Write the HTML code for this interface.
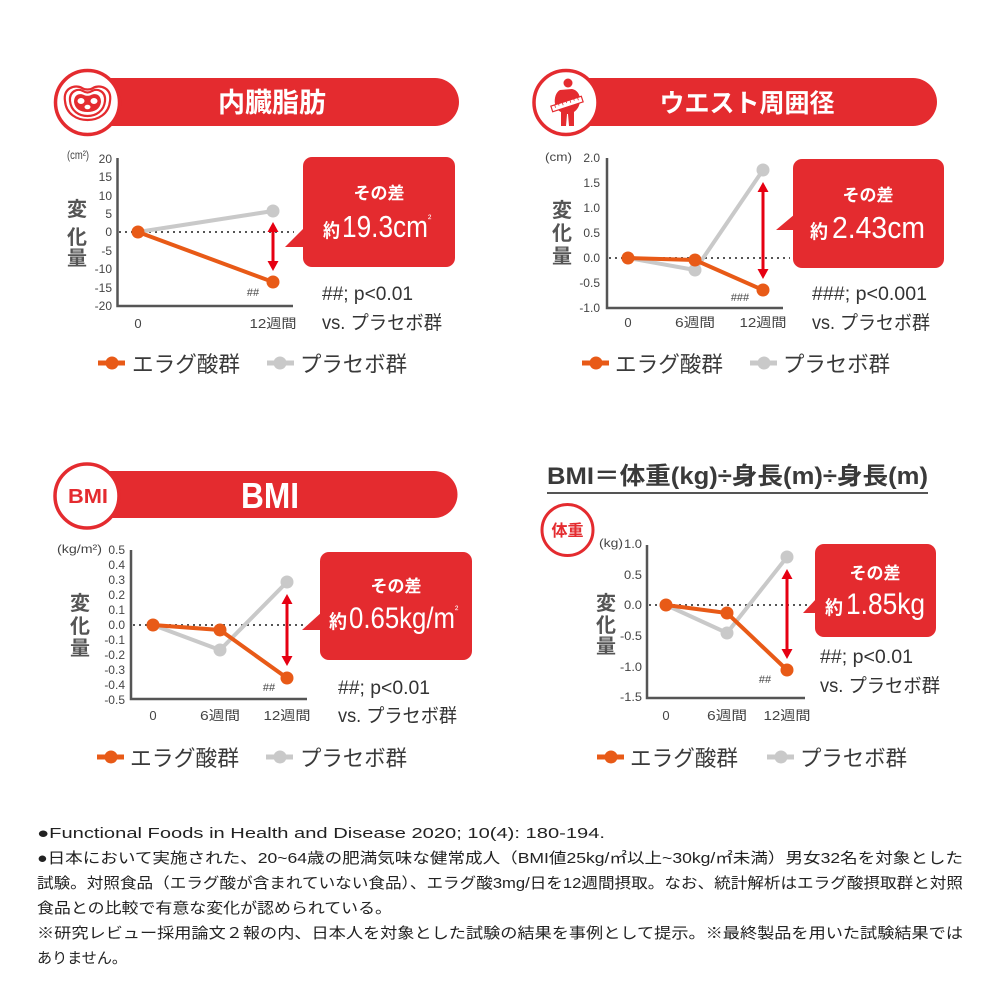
<!DOCTYPE html>
<html><head><meta charset="utf-8"><style>
html,body{margin:0;padding:0;background:#fff;}
svg{display:block;}
text{font-family:"Liberation Sans","Noto Sans CJK JP",sans-serif;}
</style></head><body>
<svg width="1000" height="1000" viewBox="0 0 1000 1000" xmlns="http://www.w3.org/2000/svg">
<rect width="1000" height="1000" fill="#fff"/>

<!-- ================= PANEL 1 ================= -->
<path d="M100,78 H435 A24,24 0 0 1 435,126 H100 Z" fill="#E42B2F"/>
<circle cx="87.5" cy="102.5" r="32" fill="#fff" stroke="#E42B2F" stroke-width="3.5"/>
<g fill="none" stroke="#E42B2F" stroke-width="2.2">
  <path d="M65,101 C63,88 75,84 82,88 C85,90 90,90 93,88 C100,84 112,88 110,101 C109,114 98,120 87.5,120 C77,120 66,114 65,101 Z"/>
  <path d="M70,101 C69,91 78,88 83,91 C86,93 89,93 92,91 C97,88 106,91 105,101 C104,111 96,116 87.5,116 C79,116 71,111 70,101 Z"/>
</g>
<path d="M74,102 C74,94 80,93 84,95 C86,96 89,96 91,95 C95,93 101,94 101,102 C100,109 95,112 87.5,112 C80,112 75,109 74,102 Z" fill="#E42B2F"/>
<ellipse cx="81" cy="101" rx="3.5" ry="3" fill="#fff"/>
<ellipse cx="94" cy="101" rx="3.5" ry="3" fill="#fff"/>
<ellipse cx="87.5" cy="107" rx="3" ry="2.3" fill="#fff"/>
<text x="272" y="112" font-size="27" font-weight="bold" fill="#fff" text-anchor="middle">内臓脂肪</text>

<!-- chart 1 -->
<text x="67" y="159" font-size="12" fill="#444" textLength="22" lengthAdjust="spacingAndGlyphs">(cm²)</text>
<g font-size="20" font-weight="bold" fill="#555" text-anchor="middle">
  <text x="77" y="216">変</text><text x="77" y="244">化</text><text x="77" y="265">量</text>
</g>
<g font-size="12" fill="#444" text-anchor="end">
  <text x="112" y="163">20</text><text x="112" y="181">15</text><text x="112" y="200">10</text>
  <text x="112" y="218">5</text><text x="112" y="236">0</text><text x="112" y="255">-5</text>
  <text x="112" y="273">-10</text><text x="112" y="292">-15</text><text x="112" y="310">-20</text>
</g>
<line x1="119" y1="232" x2="294" y2="232" stroke="#555" stroke-width="2" stroke-dasharray="2 4"/>
<polyline points="117.5,158 117.5,306 293,306" fill="none" stroke="#555" stroke-width="2.5"/>
<polyline points="138,232 273,211" fill="none" stroke="#C9C9C9" stroke-width="4"/>
<circle cx="273" cy="211" r="6.5" fill="#C9C9C9"/>
<polyline points="138,232 273,282" fill="none" stroke="#E85A17" stroke-width="4"/>
<circle cx="138" cy="232" r="6.5" fill="#E85A17"/>
<circle cx="273" cy="282" r="6.5" fill="#E85A17"/>
<line x1="273" y1="230" x2="273" y2="263" stroke="#E60012" stroke-width="3"/>
<polygon points="273,222 267.5,232 278.5,232" fill="#E60012"/>
<polygon points="273,271 267.5,261 278.5,261" fill="#E60012"/>
<text x="253" y="296" font-size="11" fill="#444" text-anchor="middle">##</text>
<g font-size="13" fill="#444" text-anchor="middle">
  <text x="138" y="328">0</text>
  <text x="273" y="328" textLength="47" lengthAdjust="spacingAndGlyphs">12週間</text>
</g>
<!-- callout 1 -->
<rect x="303" y="157" width="152" height="110" rx="9" fill="#E42B2F"/>
<polygon points="285,247 305,227 305,247" fill="#E42B2F"/>
<text x="379" y="199" font-size="17" font-weight="bold" fill="#fff" text-anchor="middle">その差</text>
<text x="323" y="237" font-size="19" font-weight="bold" fill="#fff" textLength="17" lengthAdjust="spacingAndGlyphs">約</text>
<text x="342" y="237" font-size="31" fill="#fff" textLength="86" lengthAdjust="spacingAndGlyphs">19.3cm</text>
<text x="428" y="222" font-size="10" fill="#fff">²</text>
<text x="322" y="300" font-size="19" fill="#333" textLength="91" lengthAdjust="spacingAndGlyphs">##; p&lt;0.01</text>
<text x="322" y="329" font-size="19" fill="#333" textLength="120" lengthAdjust="spacingAndGlyphs">vs. プラセボ群</text>
<!-- legend 1 -->
<line x1="98" y1="363" x2="125" y2="363" stroke="#E85A17" stroke-width="5"/>
<circle cx="112" cy="363" r="6.5" fill="#E85A17"/>
<text x="132" y="372" font-size="22" fill="#3a3a3a" textLength="108" lengthAdjust="spacingAndGlyphs">エラグ酸群</text>
<line x1="267" y1="363" x2="294" y2="363" stroke="#C9C9C9" stroke-width="5"/>
<circle cx="280" cy="363" r="6.5" fill="#C9C9C9"/>
<text x="300" y="372" font-size="22" fill="#3a3a3a" textLength="107" lengthAdjust="spacingAndGlyphs">プラセボ群</text>

<!-- ================= PANEL 2 ================= -->
<path d="M580,78 H913 A24,24 0 0 1 913,126 H580 Z" fill="#E42B2F"/>
<circle cx="566" cy="102.5" r="32" fill="#fff" stroke="#E42B2F" stroke-width="3.5"/>
<g fill="#E42B2F">
  <circle cx="568" cy="83" r="4.5"/>
  <path d="M560,90 C556,92 554,98 555,104 C556,109 559,111 561,112 L561,126 L566,126 L567,114 L568,114 L569,126 L574,126 L574,112 C577,110 580,106 580,100 C580,94 577,90 572,89 Z"/>
</g>
<g transform="rotate(-18 567 104)">
  <rect x="551" y="101" width="32" height="6" fill="#fff" stroke="#E42B2F" stroke-width="1.2"/>
  <path d="M555,101 v3 M559,101 v2 M563,101 v3 M567,101 v2 M571,101 v3 M575,101 v2 M579,101 v3" stroke="#E42B2F" stroke-width="0.8"/>
</g>
<text x="747" y="112" font-size="25.5" font-weight="bold" fill="#fff" text-anchor="middle" textLength="175" lengthAdjust="spacingAndGlyphs">ウエスト周囲径</text>

<text x="545" y="161" font-size="12" fill="#444" textLength="27" lengthAdjust="spacingAndGlyphs">(cm)</text>
<g font-size="20" font-weight="bold" fill="#555" text-anchor="middle">
  <text x="562" y="217">変</text><text x="562" y="240">化</text><text x="562" y="263">量</text>
</g>
<g font-size="12" fill="#444" text-anchor="end">
  <text x="600" y="162">2.0</text><text x="600" y="187">1.5</text><text x="600" y="212">1.0</text>
  <text x="600" y="237">0.5</text><text x="600" y="262">0.0</text><text x="600" y="287">-0.5</text>
  <text x="600" y="312">-1.0</text>
</g>
<line x1="609" y1="258" x2="790" y2="258" stroke="#555" stroke-width="2" stroke-dasharray="2 4"/>
<polyline points="607,158 607,308 783,308" fill="none" stroke="#555" stroke-width="2.5"/>
<polyline points="628,258 695,270 763,170" fill="none" stroke="#C9C9C9" stroke-width="4"/>
<circle cx="695" cy="270" r="6.5" fill="#C9C9C9"/>
<circle cx="763" cy="170" r="6.5" fill="#C9C9C9"/>
<polyline points="628,258 695,260 763,290" fill="none" stroke="#E85A17" stroke-width="4"/>
<circle cx="628" cy="258" r="6.5" fill="#E85A17"/>
<circle cx="695" cy="260" r="6.5" fill="#E85A17"/>
<circle cx="763" cy="290" r="6.5" fill="#E85A17"/>
<line x1="763" y1="190" x2="763" y2="271" stroke="#E60012" stroke-width="3"/>
<polygon points="763,182 757.5,192 768.5,192" fill="#E60012"/>
<polygon points="763,279 757.5,269 768.5,269" fill="#E60012"/>
<text x="740" y="301" font-size="11" fill="#444" text-anchor="middle">###</text>
<g font-size="13" fill="#444" text-anchor="middle">
  <text x="628" y="327">0</text>
  <text x="695" y="327" textLength="40" lengthAdjust="spacingAndGlyphs">6週間</text>
  <text x="763" y="327" textLength="47" lengthAdjust="spacingAndGlyphs">12週間</text>
</g>
<rect x="793" y="159" width="151" height="109" rx="9" fill="#E42B2F"/>
<polygon points="776,230 795,214 795,230" fill="#E42B2F"/>
<text x="868" y="201" font-size="17" font-weight="bold" fill="#fff" text-anchor="middle">その差</text>
<text x="810" y="238" font-size="19" font-weight="bold" fill="#fff" textLength="18" lengthAdjust="spacingAndGlyphs">約</text>
<text x="832" y="238" font-size="31" fill="#fff" textLength="93" lengthAdjust="spacingAndGlyphs">2.43cm</text>
<text x="812" y="300" font-size="19" fill="#333" textLength="115" lengthAdjust="spacingAndGlyphs">###; p&lt;0.001</text>
<text x="812" y="329" font-size="19" fill="#333" textLength="118" lengthAdjust="spacingAndGlyphs">vs. プラセボ群</text>
<line x1="582" y1="363" x2="609" y2="363" stroke="#E85A17" stroke-width="5"/>
<circle cx="596" cy="363" r="6.5" fill="#E85A17"/>
<text x="615" y="372" font-size="22" fill="#3a3a3a" textLength="108" lengthAdjust="spacingAndGlyphs">エラグ酸群</text>
<line x1="750" y1="363" x2="777" y2="363" stroke="#C9C9C9" stroke-width="5"/>
<circle cx="764" cy="363" r="6.5" fill="#C9C9C9"/>
<text x="783" y="372" font-size="22" fill="#3a3a3a" textLength="107" lengthAdjust="spacingAndGlyphs">プラセボ群</text>

<!-- ================= PANEL 3 ================= -->
<path d="M100,471 H434 A23.5,23.5 0 0 1 434,518 H100 Z" fill="#E42B2F"/>
<circle cx="87" cy="496" r="32" fill="#fff" stroke="#E42B2F" stroke-width="3.5"/>
<text x="88" y="503" font-size="20" font-weight="bold" fill="#E42B2F" text-anchor="middle" textLength="40" lengthAdjust="spacingAndGlyphs">BMI</text>
<text x="270" y="508" font-size="36" fill="#fff" text-anchor="middle" textLength="58" lengthAdjust="spacingAndGlyphs" font-weight="bold">BMI</text>

<text x="57" y="553" font-size="12" fill="#444" textLength="45" lengthAdjust="spacingAndGlyphs">(kg/m²)</text>
<g font-size="20" font-weight="bold" fill="#555" text-anchor="middle">
  <text x="80" y="610">変</text><text x="80" y="633">化</text><text x="80" y="655">量</text>
</g>
<g font-size="12" fill="#444" text-anchor="end">
  <text x="125" y="554">0.5</text><text x="125" y="569">0.4</text><text x="125" y="584">0.3</text>
  <text x="125" y="599">0.2</text><text x="125" y="614">0.1</text><text x="125" y="629">0.0</text>
  <text x="125" y="644">-0.1</text><text x="125" y="659">-0.2</text><text x="125" y="674">-0.3</text>
  <text x="125" y="689">-0.4</text><text x="125" y="704">-0.5</text>
</g>
<line x1="133" y1="625" x2="307" y2="625" stroke="#555" stroke-width="2" stroke-dasharray="2 4"/>
<polyline points="131,550 131,699 307,699" fill="none" stroke="#555" stroke-width="2.5"/>
<polyline points="153,625 220,650 287,582" fill="none" stroke="#C9C9C9" stroke-width="4"/>
<circle cx="220" cy="650" r="6.5" fill="#C9C9C9"/>
<circle cx="287" cy="582" r="6.5" fill="#C9C9C9"/>
<polyline points="153,625 220,630 287,678" fill="none" stroke="#E85A17" stroke-width="4"/>
<circle cx="153" cy="625" r="6.5" fill="#E85A17"/>
<circle cx="220" cy="630" r="6.5" fill="#E85A17"/>
<circle cx="287" cy="678" r="6.5" fill="#E85A17"/>
<line x1="287" y1="602" x2="287" y2="658" stroke="#E60012" stroke-width="3"/>
<polygon points="287,594 281.5,604 292.5,604" fill="#E60012"/>
<polygon points="287,666 281.5,656 292.5,656" fill="#E60012"/>
<text x="269" y="691" font-size="11" fill="#444" text-anchor="middle">##</text>
<g font-size="13" fill="#444" text-anchor="middle">
  <text x="153" y="720">0</text>
  <text x="220" y="720" textLength="40" lengthAdjust="spacingAndGlyphs">6週間</text>
  <text x="287" y="720" textLength="47" lengthAdjust="spacingAndGlyphs">12週間</text>
</g>
<rect x="320" y="552" width="152" height="108" rx="9" fill="#E42B2F"/>
<polygon points="302,630 322,612 322,630" fill="#E42B2F"/>
<text x="396" y="592" font-size="17" font-weight="bold" fill="#fff" text-anchor="middle">その差</text>
<text x="329" y="628" font-size="19" font-weight="bold" fill="#fff" textLength="18" lengthAdjust="spacingAndGlyphs">約</text>
<text x="349" y="628" font-size="30" fill="#fff" textLength="106" lengthAdjust="spacingAndGlyphs">0.65kg/m</text>
<text x="455" y="613" font-size="10" fill="#fff">²</text>
<text x="338" y="694" font-size="19" fill="#333" textLength="92" lengthAdjust="spacingAndGlyphs">##; p&lt;0.01</text>
<text x="338" y="722" font-size="19" fill="#333" textLength="119" lengthAdjust="spacingAndGlyphs">vs. プラセボ群</text>
<line x1="97" y1="757" x2="124" y2="757" stroke="#E85A17" stroke-width="5"/>
<circle cx="111" cy="757" r="6.5" fill="#E85A17"/>
<text x="130" y="766" font-size="22" fill="#3a3a3a" textLength="109" lengthAdjust="spacingAndGlyphs">エラグ酸群</text>
<line x1="266" y1="757" x2="293" y2="757" stroke="#C9C9C9" stroke-width="5"/>
<circle cx="280" cy="757" r="6.5" fill="#C9C9C9"/>
<text x="300" y="766" font-size="22" fill="#3a3a3a" textLength="107" lengthAdjust="spacingAndGlyphs">プラセボ群</text>

<!-- ================= PANEL 4 ================= -->
<text x="547" y="484" font-size="24" font-weight="bold" fill="#3a3a3a" textLength="381" lengthAdjust="spacingAndGlyphs">BMI＝体重(kg)÷身長(m)÷身長(m)</text>
<line x1="547" y1="493" x2="928" y2="493" stroke="#555" stroke-width="2"/>
<circle cx="567.5" cy="530" r="25.5" fill="#fff" stroke="#E42B2F" stroke-width="3"/>
<text x="567.5" y="536" font-size="16" font-weight="bold" fill="#E42B2F" text-anchor="middle">体重</text>

<text x="599" y="547" font-size="12" fill="#444" textLength="24" lengthAdjust="spacingAndGlyphs">(kg)</text>
<g font-size="12" fill="#444" text-anchor="end">
  <text x="642" y="548" textLength="18" lengthAdjust="spacingAndGlyphs">1.0</text>
  <text x="642" y="579" textLength="18" lengthAdjust="spacingAndGlyphs">0.5</text>
  <text x="642" y="609" textLength="18" lengthAdjust="spacingAndGlyphs">0.0</text>
  <text x="642" y="640" textLength="22" lengthAdjust="spacingAndGlyphs">-0.5</text>
  <text x="642" y="671" textLength="22" lengthAdjust="spacingAndGlyphs">-1.0</text>
  <text x="642" y="701" textLength="22" lengthAdjust="spacingAndGlyphs">-1.5</text>
</g>
<g font-size="20" font-weight="bold" fill="#555" text-anchor="middle">
  <text x="606" y="610">変</text><text x="606" y="632">化</text><text x="606" y="653">量</text>
</g>
<line x1="649" y1="605" x2="808" y2="605" stroke="#555" stroke-width="2" stroke-dasharray="2 4"/>
<polyline points="647,545 647,698 805,698" fill="none" stroke="#555" stroke-width="2.5"/>
<polyline points="666,605 727,633 787,557" fill="none" stroke="#C9C9C9" stroke-width="4"/>
<circle cx="727" cy="633" r="6.5" fill="#C9C9C9"/>
<circle cx="787" cy="557" r="6.5" fill="#C9C9C9"/>
<polyline points="666,605 727,613 787,670" fill="none" stroke="#E85A17" stroke-width="4"/>
<circle cx="666" cy="605" r="6.5" fill="#E85A17"/>
<circle cx="727" cy="613" r="6.5" fill="#E85A17"/>
<circle cx="787" cy="670" r="6.5" fill="#E85A17"/>
<line x1="787" y1="577" x2="787" y2="651" stroke="#E60012" stroke-width="3"/>
<polygon points="787,569 781.5,579 792.5,579" fill="#E60012"/>
<polygon points="787,659 781.5,649 792.5,649" fill="#E60012"/>
<text x="765" y="683" font-size="11" fill="#444" text-anchor="middle">##</text>
<g font-size="13" fill="#444" text-anchor="middle">
  <text x="666" y="720">0</text>
  <text x="727" y="720" textLength="40" lengthAdjust="spacingAndGlyphs">6週間</text>
  <text x="787" y="720" textLength="47" lengthAdjust="spacingAndGlyphs">12週間</text>
</g>
<rect x="815" y="544" width="121" height="93" rx="9" fill="#E42B2F"/>
<polygon points="803,613 817,598 817,613" fill="#E42B2F"/>
<text x="875" y="579" font-size="17" font-weight="bold" fill="#fff" text-anchor="middle">その差</text>
<text x="825" y="614" font-size="19" font-weight="bold" fill="#fff" textLength="18" lengthAdjust="spacingAndGlyphs">約</text>
<text x="846" y="614" font-size="30" fill="#fff" textLength="79" lengthAdjust="spacingAndGlyphs">1.85kg</text>
<text x="820" y="663" font-size="19" fill="#333" textLength="93" lengthAdjust="spacingAndGlyphs">##; p&lt;0.01</text>
<text x="820" y="692" font-size="19" fill="#333" textLength="120" lengthAdjust="spacingAndGlyphs">vs. プラセボ群</text>
<line x1="597" y1="757" x2="624" y2="757" stroke="#E85A17" stroke-width="5"/>
<circle cx="611" cy="757" r="6.5" fill="#E85A17"/>
<text x="630" y="766" font-size="22" fill="#3a3a3a" textLength="108" lengthAdjust="spacingAndGlyphs">エラグ酸群</text>
<line x1="767" y1="757" x2="794" y2="757" stroke="#C9C9C9" stroke-width="5"/>
<circle cx="781" cy="757" r="6.5" fill="#C9C9C9"/>
<text x="800" y="766" font-size="22" fill="#3a3a3a" textLength="107" lengthAdjust="spacingAndGlyphs">プラセボ群</text>

<!-- ================= FOOTER ================= -->
<g font-size="15" fill="#222">
  <text x="37" y="838" textLength="568" lengthAdjust="spacingAndGlyphs">●Functional Foods in Health and Disease 2020; 10(4): 180-194.</text>
  <text x="37" y="863" textLength="926" lengthAdjust="spacingAndGlyphs">●日本において実施された、20~64歳の肥満気味な健常成人（BMI値25kg/㎡以上~30kg/㎡未満）男女32名を対象とした</text>
  <text x="37" y="888" textLength="926" lengthAdjust="spacingAndGlyphs">試験。対照食品（エラグ酸が含まれていない食品）、エラグ酸3mg/日を12週間摂取。なお、統計解析はエラグ酸摂取群と対照</text>
  <text x="37" y="913" textLength="355" lengthAdjust="spacingAndGlyphs">食品との比較で有意な変化が認められている。</text>
  <text x="37" y="938" textLength="926" lengthAdjust="spacingAndGlyphs">※研究レビュー採用論文２報の内、日本人を対象とした試験の結果を事例として提示。※最終製品を用いた試験結果では</text>
  <text x="37" y="963" textLength="90" lengthAdjust="spacingAndGlyphs">ありません。</text>
</g>
</svg>
</body></html>
